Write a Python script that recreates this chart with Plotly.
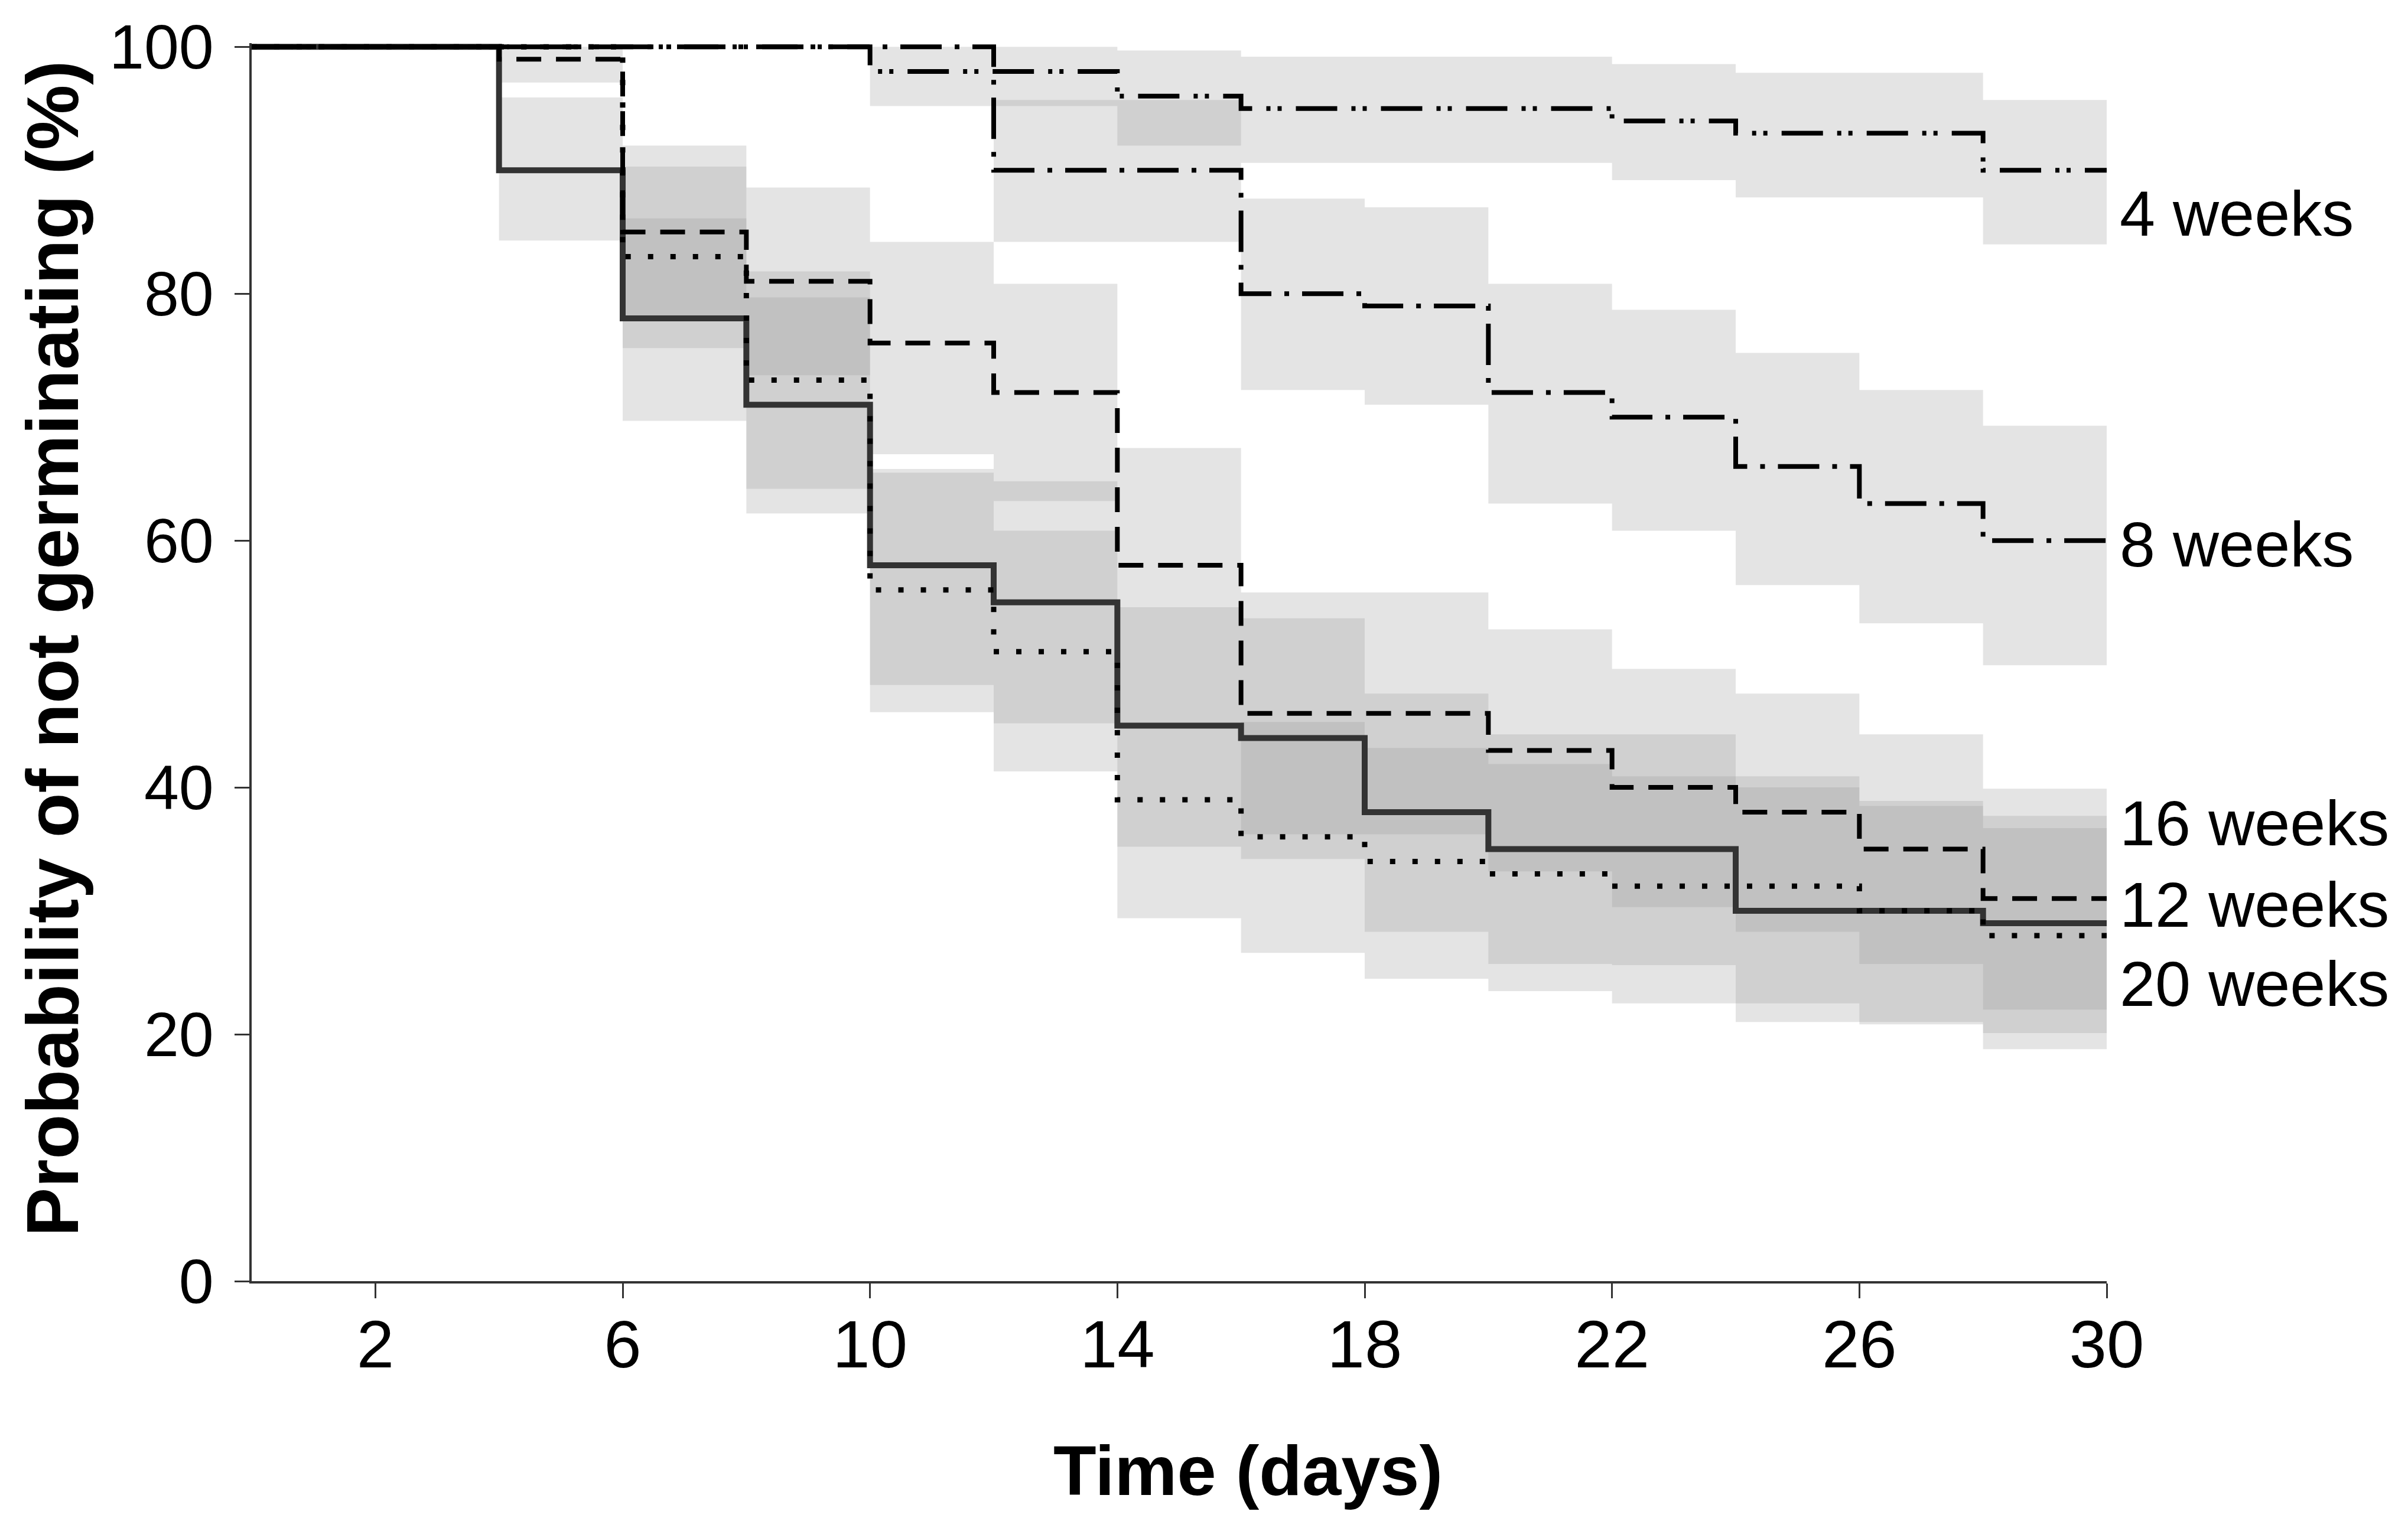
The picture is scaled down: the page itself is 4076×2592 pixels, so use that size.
import plotly.graph_objects as go

# ---- data ----
step_days = [0, 4, 6, 8, 10, 12, 14, 16, 18, 20, 22, 24, 26, 28]
end_day = 30
x_ticks = [2, 6, 10, 14, 18, 22, 26, 30]
y_ticks = [0, 20, 40, 60, 80, 100]

labels = ["16 weeks", "12 weeks", "20 weeks", "8 weeks", "4 weeks"]

w16_val = [100, 90, 78, 71, 58, 55, 45, 44, 38, 35, 35, 30, 30, 29]
w16_lo = [None, 84.3, 69.7, 62.2, 48.3, 45.2, 35.2, 34.2, 28.3, 25.7, 25.6, 21.0, 21.0, 20.1]
w16_hi = [None, 95.9, 86.1, 79.7, 65.8, 64.8, 54.6, 53.7, 47.6, 44.3, 44.3, 40.0, 38.9, 37.7]

w12_val = [100, 99, 85, 81, 76, 72, 58, 46, 46, 43, 40, 38, 35, 31]
w12_lo = [None, 97.1, 77.9, 73.4, 67.0, 63.2, 48.3, 36.2, 36.2, 33.2, 30.3, 28.3, 25.7, 22.0]
w12_hi = [None, 100, 92.0, 88.6, 84.2, 80.8, 67.5, 55.8, 55.8, 52.8, 49.6, 47.6, 44.3, 39.9]

w20_val = [100, 100, 83, 73, 56, 51, 39, 36, 34, 33, 32, 32, 30, 28]
w20_lo = [None, None, 75.6, 64.2, 46.1, 41.3, 29.4, 26.6, 24.5, 23.5, 22.5, 22.5, 20.8, 18.8]
w20_hi = [None, None, 90.3, 81.8, 65.5, 60.8, 48.3, 45.3, 43.2, 41.9, 40.9, 40.9, 38.5, 36.7]

w8_val = [100, 100, 100, 100, 100, 90, 90, 80, 79, 72, 70, 66, 63, 60]
w8_lo = [None, None, None, None, None, 84.2, 84.2, 72.2, 71.0, 63.0, 60.8, 56.4, 53.3, 49.9]
w8_hi = [None, None, None, None, None, 95.7, 95.7, 87.7, 87.0, 80.8, 78.7, 75.2, 72.2, 69.3]

w4_val = [100, 100, 100, 100, 98, 98, 96, 95, 95, 95, 94, 93, 93, 90]
w4_lo = [None, None, None, None, 95.2, 95.2, 92.0, 90.6, 90.6, 90.6, 89.2, 87.8, 87.8, 84.0]
w4_hi = [None, None, None, None, 100, 100, 99.7, 99.2, 99.2, 99.2, 98.6, 97.9, 97.9, 95.7]

label_y = [37.1, 30.5, 24.1, 59.7, 86.5]

series = [
    (labels[0], w16_val, w16_lo, w16_hi, dict(color="#333333", width=10, dash="solid")),
    (labels[1], w12_val, w12_lo, w12_hi, dict(color="black", width=8, dash="42px,25px")),
    (labels[2], w20_val, w20_lo, w20_hi, dict(color="black", width=9, dash="9px,29px")),
    (labels[3], w8_val, w8_lo, w8_hi, dict(color="black", width=8, dash="70px,22px,8px,22px")),
    (labels[4], w4_val, w4_lo, w4_hi, dict(color="black", width=8, dash="70px,24px,7px,12px,7px,24px")),
]

bounds = step_days + [end_day]

fig = go.Figure()

# confidence bands
for name, val, lo, hi, st in series:
    idx = [i for i in range(len(step_days)) if lo[i] is not None]
    px, py = [], []
    for i in idx:
        px += [bounds[i], bounds[i + 1]]
        py += [hi[i], hi[i]]
    for i in reversed(idx):
        px += [bounds[i + 1], bounds[i]]
        py += [lo[i], lo[i]]
    fig.add_trace(go.Scatter(
        x=px, y=py, mode="lines", fill="toself",
        fillcolor="rgba(151,151,151,0.26)", line=dict(width=0),
        hoverinfo="skip", showlegend=False,
    ))

# step curves
for name, val, lo, hi, st in series:
    fig.add_trace(go.Scatter(
        x=bounds, y=val + [val[-1]], mode="lines", line_shape="hv",
        line=st, name=name, showlegend=False,
    ))

font_family = "Liberation Sans, Arial, Helvetica, sans-serif"

annotations = []
for name, ly in zip(labels, label_y):
    annotations.append(dict(
        x=end_day, y=ly, xref="x", yref="y", text=name, showarrow=False,
        xanchor="left", yanchor="middle", xshift=20,
        font=dict(family=font_family, size=108, color="black"),
    ))

annotations.append(dict(
    x=0.537, y=-0.153, xref="paper", yref="paper", text="<b>Time (days)</b>",
    showarrow=False, xanchor="center", yanchor="middle",
    font=dict(family=font_family, size=119, color="black"),
))
annotations.append(dict(
    x=-0.1075, y=0.511, xref="paper", yref="paper",
    text="<b>Probability of not germinating (%)</b>", textangle=-90,
    showarrow=False, xanchor="center", yanchor="middle",
    font=dict(family=font_family, size=124, color="black"),
))

fig.update_layout(
    width=4076, height=2592,
    margin=dict(l=418, r=518, t=60, b=431),
    paper_bgcolor="white", plot_bgcolor="white",
    annotations=annotations,
    font=dict(family=font_family, color="black"),
)

fig.update_xaxes(
    range=[0, 30], tickvals=x_ticks, ticktext=[str(t) for t in x_ticks],
    showgrid=False, zeroline=False, showline=True, linecolor="#333333", linewidth=4,
    ticks="outside", ticklen=25, tickwidth=3, tickcolor="#333333",
    tickfont=dict(family=font_family, size=114, color="black"),
    ticklabelstandoff=-20,
)
fig.update_yaxes(
    range=[0, 100.3], tickvals=y_ticks, ticktext=[str(t) for t in y_ticks],
    showgrid=False, zeroline=False, showline=True, linecolor="#333333", linewidth=4,
    ticks="outside", ticklen=25, tickwidth=3, tickcolor="#333333",
    tickfont=dict(family=font_family, size=106, color="black"),
    ticklabelstandoff=14,
)

fig.write_html("out.html")
